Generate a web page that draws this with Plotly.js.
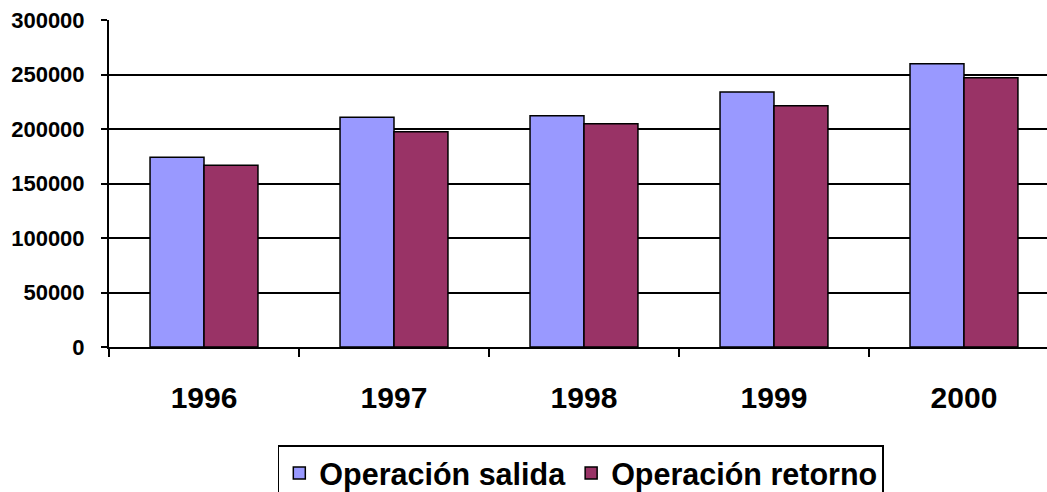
<!DOCTYPE html>
<html>
<head>
<meta charset="utf-8">
<script src="https://cdn.plot.ly/plotly-3.0.1.min.js"></script>
<style>html,body{margin:0;padding:0;background:#fff;}#chart{width:1047px;height:492px;}</style>
</head>
<body>
<div id="chart"></div>
<script>
const years = ['1996', '1997', '1998', '1999', '2000'];
const salida = [174000, 210700, 212200, 233900, 259900];
const retorno = [166700, 197500, 204900, 221400, 247100];
const yTicks = [0, 50000, 100000, 150000, 200000, 250000, 300000];
const seriesNames = ['Operación salida', 'Operación retorno'];

const FONT = 'Liberation Sans, Arial, sans-serif';

const traces = [
  {type: 'bar', name: seriesNames[0], x: years, y: salida,
   marker: {color: '#9999FF', line: {color: '#000000', width: 1.5}}},
  {type: 'bar', name: seriesNames[1], x: years, y: retorno,
   marker: {color: '#993366', line: {color: '#000000', width: 1.5}}}
];

const layout = {
  width: 1047, height: 492,
  margin: {l: 109, r: 0, t: 20, b: 145, autoexpand: false},
  paper_bgcolor: '#ffffff', plot_bgcolor: '#ffffff',
  font: {family: FONT, color: '#000000'},
  barmode: 'group', bargap: 0.432, bargroupgap: 0,
  showlegend: true,
  legend: {
    orientation: 'h', x: 0.503, xanchor: 'center', y: -0.30, yanchor: 'top',
    bordercolor: '#000000', borderwidth: 1.5, bgcolor: '#ffffff',
    font: {family: FONT, size: 30.5, weight: 'bold', color: '#000000'},
    traceorder: 'normal'
  },
  xaxis: {
    type: 'category', range: [-0.5, 4.437],
    showline: true, linecolor: '#000000', linewidth: 1.5,
    showgrid: false, zeroline: false,
    ticks: 'outside', tickson: 'boundaries', ticklen: 8, tickwidth: 1.5, tickcolor: '#000000',
    tickfont: {family: FONT, size: 30, weight: 'bold', color: '#000000'},
    ticklabelstandoff: 23, fixedrange: true
  },
  yaxis: {
    range: [0, 300000], tickvals: yTicks, ticktext: yTicks.map(String),
    showline: true, linecolor: '#000000', linewidth: 2,
    showgrid: true, gridcolor: '#000000', gridwidth: 2, zeroline: false,
    ticks: 'outside', ticklen: 6, tickwidth: 2, tickcolor: '#000000',
    tickfont: {family: FONT, size: 22, weight: 'bold', color: '#000000'},
    ticklabelstandoff: 12, fixedrange: true
  }
};

Plotly.newPlot('chart', traces, layout, {staticPlot: true, displayModeBar: false});
</script>
</body>
</html>
